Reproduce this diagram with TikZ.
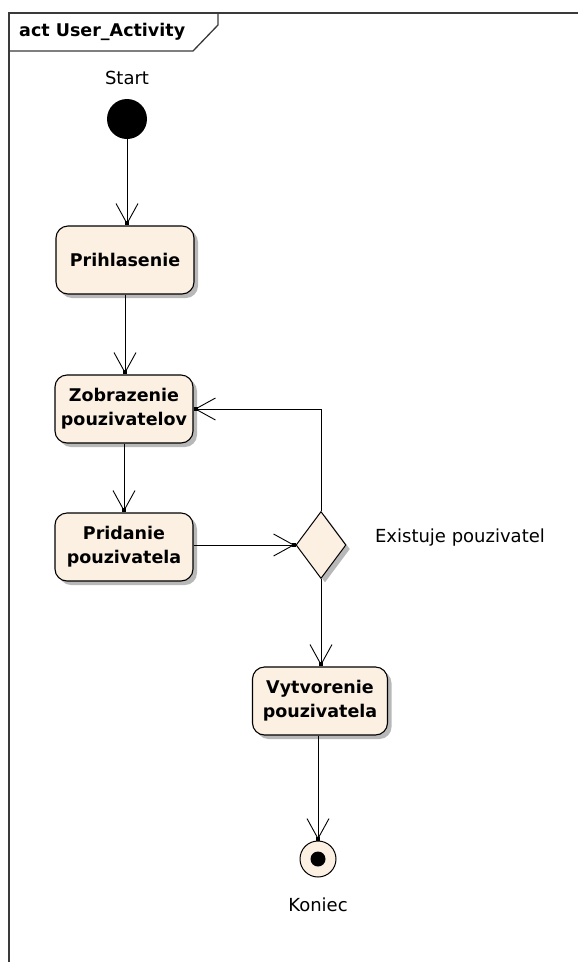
\documentclass[tikz,border=0pt]{standalone}
\usepackage{fontspec}
\setmainfont{DejaVu Sans}
\usetikzlibrary{arrows.meta,shapes.geometric,shadows}

\definecolor{actfill}{HTML}{FBF0E2}
\definecolor{framecol}{HTML}{3A3A3A}
\definecolor{shadowcol}{HTML}{B8B8B8}

\tikzset{
  actshadow/.style={drop shadow={shadow xshift=4pt, shadow yshift=-4pt, fill=shadowcol, opacity=1}},
  action/.style={draw=black, line width=1.1pt, fill=actfill, rounded corners=12pt,
    minimum width=138pt, minimum height=68pt, align=center, inner sep=2pt,
    font=\fontsize{17.5}{24}\selectfont\bfseries, actshadow},
  decision/.style={draw=black, line width=1pt, fill=actfill, diamond, inner sep=0pt,
    minimum width=50pt, minimum height=67pt, actshadow},
  initial/.style={circle, fill=black, minimum size=40pt, inner sep=0pt},
  final/.style={circle, draw=black, line width=1pt, fill=actfill, minimum size=36pt, inner sep=0pt},
  lbl/.style={font=\fontsize{18}{22}\selectfont, inner sep=0pt},
  flow/.style={draw=black, line width=1pt,
    -{Straight Barb[length=20pt,width=22pt,line width=0.9pt,sep=-3pt]Square[length=4pt,width=4pt]}},
}

\begin{document}
\begin{tikzpicture}[x=1pt,y=-1pt]
  \useasboundingbox (0,0) rectangle (578,962);

  % diagram frame with its name tab
  \draw[framecol, line width=1.6pt] (9,962) -- (9,13) -- (578,13);
  \draw[framecol, line width=1.3pt] (9,51) -- (193,51) -- (218,25) -- (218,13);
  \node[anchor=west, inner sep=0pt, font=\fontsize{17.5}{20}\selectfont\bfseries] (title) at (19,32) {act User\_Activity};

  % nodes
  \node[initial] (start) at (127,119) {};
  \node[lbl] (startlbl) at (127,78) {Start};

  \node[action] (prih) at (125,260) {Prihlasenie};
  \node[action] (zob) at (124,409) {Zobrazenie\\pouzivatelov};
  \node[action] (prid) at (124,547) {Pridanie\\pouzivatela};
  \node[decision] (dia) at (321,545) {};
  \node[lbl] (dialbl) at (460,538) {Existuje pouzivatel};
  \node[action, minimum width=135pt] (vyt) at (320,701) {Vytvorenie\\pouzivatela};

  \node[final] (end) at (318,859) {};
  \fill[black] (end.center) circle (7.5pt);
  \node[lbl] (endlbl) at (318,905) {Koniec};

  % control flows
  \draw[flow] (start.south) -- (start.south |- prih.north);
  \draw[flow] (prih.south) -- (prih.south |- zob.north);
  \draw[flow] (zob.south) -- (prid.north);
  \draw[flow] (prid.east |- dia.west) -- (dia.west);
  \draw[flow] (dia.north) |- (zob.east);
  \draw[flow] (dia.south) -- (dia.south |- vyt.north);
  \draw[flow] (end.north |- vyt.south) -- (end.north);
\end{tikzpicture}
\end{document}
